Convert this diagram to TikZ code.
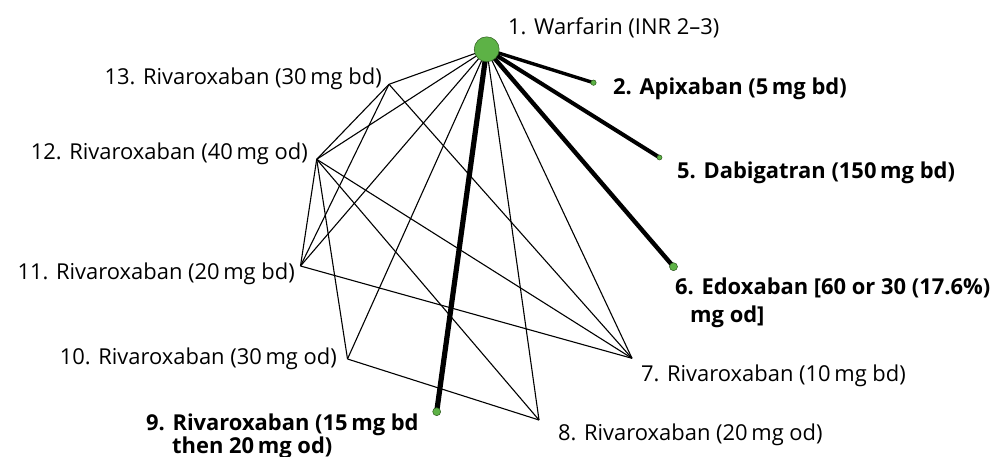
\documentclass[tikz,border=0pt]{standalone}
\usepackage{fontspec}
\setmainfont{Open Sans}
\definecolor{nodegreen}{HTML}{5DB246}
\definecolor{nodeedge}{HTML}{2E5A1E}
\begin{document}
\begin{tikzpicture}[x=1bp,y=-1bp,
  thin edge/.style={draw=black,line width=1.1bp},
  thick edge/.style={draw=black,line width=#1},
  vtx/.style={circle,fill=nodegreen,draw=nodeedge,line width=0.5bp,inner sep=0pt,minimum size=#1},
  lbl/.style={inner sep=0pt,font=\fontsize{22}{26}\selectfont},
  blbl/.style={inner sep=0pt,font=\fontsize{22}{26}\selectfont\bfseries}]
\useasboundingbox (0,0) rectangle (995,457);
% vertices
\coordinate (n1) at (486.7,49.3);
\coordinate (n2) at (593.5,82.7);
\coordinate (n5) at (659.5,157.5);
\coordinate (n6) at (673.5,266.7);
\coordinate (n7) at (632,358.3);
\coordinate (n8) at (539,420);
\coordinate (n9) at (436.7,411.7);
\coordinate (n10) at (347.5,359);
\coordinate (n11) at (300.5,266);
\coordinate (n12) at (316.7,159.3);
\coordinate (n13) at (389,84.3);
% thin edges
\foreach \a/\b in {n1/n7,n1/n11,n1/n12,n1/n13,n7/n11,n7/n12,n7/n13,n11/n12,n11/n13,n12/n13,
                   n1/n8,n1/n10,n8/n10,n8/n12,n10/n12}
  \draw[thin edge] (\a) -- (\b);
% thick edges
\draw[thick edge=3.4bp] (n1) -- (n2);
\draw[thick edge=4.0bp] (n1) -- (n5);
\draw[thick edge=4.4bp] (n1) -- (n6);
\draw[thick edge=5.2bp] (n1) -- (n9);
% circles
\node[vtx=25bp] (c1) at (n1) {};
\node[vtx=5.4bp] (c2) at (n2) {};
\node[vtx=5bp] (c5) at (n5) {};
\node[vtx=8bp] (c6) at (n6) {};
\node[vtx=8bp] (c9) at (n9) {};
% labels
\node[lbl,anchor=base west] (l1) at (508,35) {1. Warfarin (INR 2–3)};
\node[blbl,anchor=base west] (l2) at (613,95) {2. Apixaban (5\,mg bd)};
\node[blbl,anchor=base west] (l5) at (677,179) {5. Dabigatran (150\,mg bd)};
\node[blbl,anchor=base west] (l6a) at (675,294.3) {6. Edoxaban [60 or 30 (17.6\%)};
\node[blbl,anchor=base west] (l6b) at (690,322.7) {mg od]};
\node[lbl,anchor=base west] (l7) at (641,381.7) {7. Rivaroxaban (10\,mg bd)};
\node[lbl,anchor=base west] (l8) at (558,440) {8. Rivaroxaban (20\,mg od)};
\node[blbl,anchor=base west] (l9a) at (146,430) {9. Rivaroxaban (15\,mg bd};
\node[blbl,anchor=base west] (l9b) at (172,453) {then 20\,mg od)};
\node[lbl,anchor=base east] (l10) at (337,365) {10. Rivaroxaban (30\,mg od)};
\node[lbl,anchor=base east] (l11) at (295,280) {11. Rivaroxaban (20\,mg bd)};
\node[lbl,anchor=base east] (l12) at (308,160) {12. Rivaroxaban (40\,mg od)};
\node[lbl,anchor=base east] (l13) at (382,85) {13. Rivaroxaban (30\,mg bd)};
\end{tikzpicture}
\end{document}
